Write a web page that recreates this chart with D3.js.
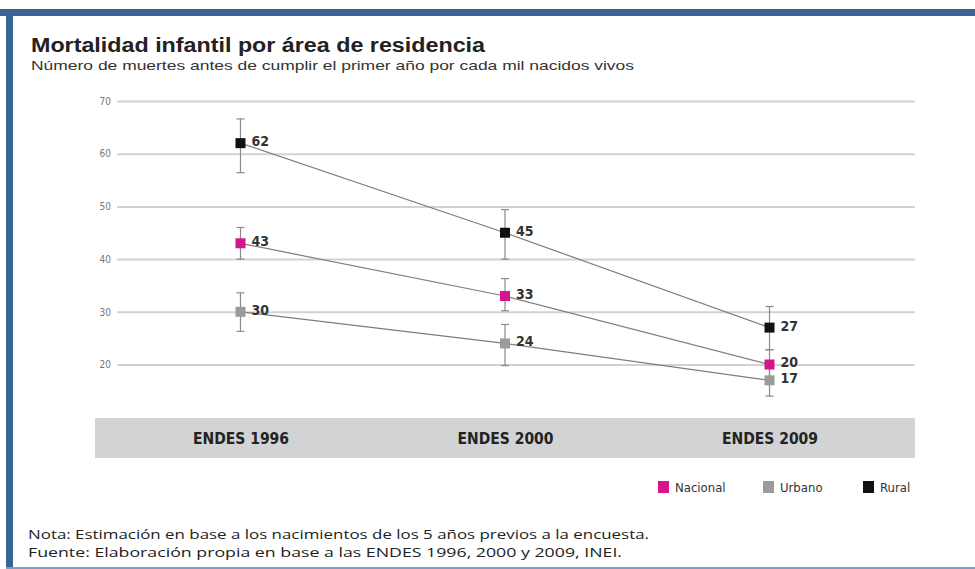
<!DOCTYPE html>
<html>
<head>
  <meta charset="utf-8">
  <script src="https://d3js.org/d3.v7.min.js"></script>
  <style>
    body { margin: 0; background: #fff; }
    svg { display: block; }
    .cond { font-family: "DejaVu Sans Condensed", "DejaVu Sans", sans-serif; font-stretch: condensed; }
  </style>
</head>
<body>
<script>
  // chart data
  var categories = ["ENDES 1996", "ENDES 2000", "ENDES 2009"];
  var seriesNames = ["Nacional", "Urbano", "Rural"];
  var nacional = [43, 33, 20];
  var urbano = [30, 24, 17];
  var rural = [62, 45, 27];
  // confidence intervals
  var nacionalLow = [40, 30.2, 17.5], nacionalHigh = [46, 36.3, 22.8];
  var urbanoLow = [26.3, 19.8, 14], urbanoHigh = [33.6, 27.6, 19.5];
  var ruralLow = [56.4, 40, 22.8], ruralHigh = [66.6, 49.4, 31];
  var yTicks = [20, 30, 40, 50, 60, 70];

  var colors = { "Nacional": "#d4168a", "Urbano": "#9b9b9b", "Rural": "#111111" };

  var series = [
    { name: "Rural", values: rural, low: ruralLow, high: ruralHigh },
    { name: "Nacional", values: nacional, low: nacionalLow, high: nacionalHigh },
    { name: "Urbano", values: urbano, low: urbanoLow, high: urbanoHigh }
  ];

  var width = 975, height = 569;

  var svg = d3.select("body").append("svg")
      .attr("width", width)
      .attr("height", height);

  // blue frame
  svg.append("rect").attr("x", 0).attr("y", 9).attr("width", width).attr("height", 7).attr("fill", "#3a6396");
  svg.append("rect").attr("x", 6).attr("y", 9).attr("width", 7).attr("height", height - 9).attr("fill", "#3a6396");
  svg.append("rect").attr("x", 6).attr("y", 567).attr("width", width).attr("height", 2).attr("fill", "#7f9cc6");

  // titles
  svg.append("text")
      .attr("x", 31).attr("y", 52)
      .style("font-family", "Liberation Sans, Arial, sans-serif")
      .style("font-size", "20px")
      .style("font-weight", "bold")
      .attr("fill", "#222")
      .attr("textLength", 454)
      .attr("lengthAdjust", "spacingAndGlyphs")
      .text("Mortalidad infantil por área de residencia");

  svg.append("text")
      .attr("x", 31).attr("y", 70)
      .style("font-family", "Liberation Sans, Arial, sans-serif")
      .style("font-size", "13px")
      .attr("fill", "#333")
      .attr("textLength", 603)
      .attr("lengthAdjust", "spacingAndGlyphs")
      .text("Número de muertes antes de cumplir el primer año por cada mil nacidos vivos");

  var x = d3.scalePoint()
      .domain(categories)
      .range([95, 915])
      .padding(0.55);

  var y = d3.scaleLinear()
      .domain([20, 70])
      .range([364.5, 101]);

  // grid lines
  var yAxis = d3.axisLeft(y)
      .tickValues(yTicks)
      .tickSize(-(915 - 117))
      .tickPadding(6);

  var gy = svg.append("g")
      .attr("transform", "translate(117,0)")
      .call(yAxis);
  gy.select(".domain").remove();
  gy.selectAll(".tick line")
      .attr("stroke", "#d2d2d2")
      .attr("stroke-width", 2);
  gy.selectAll(".tick text")
      .attr("class", "cond")
      .attr("fill", "#777")
      .style("font-size", "10px");

  // category band
  svg.append("rect")
      .attr("x", 95).attr("y", 418)
      .attr("width", 820).attr("height", 40)
      .attr("fill", "#d1d3d4");

  var gx = svg.append("g")
      .attr("transform", "translate(0,438)")
      .call(d3.axisBottom(x).tickSize(0).tickPadding(0));
  gx.select(".domain").remove();
  gx.selectAll(".tick text")
      .attr("class", "cond")
      .attr("dy", "0.35em")
      .attr("fill", "#222")
      .style("font-size", "16px")
      .style("font-weight", "bold")
      .attr("textLength", 96)
      .attr("lengthAdjust", "spacingAndGlyphs");

  // lines
  var line = d3.line()
      .x(function (d, i) { return x(categories[i]); })
      .y(function (d) { return y(d); });

  svg.selectAll(".series-line")
      .data(series)
      .enter().append("path")
      .attr("class", "series-line")
      .attr("d", function (s) { return line(s.values); })
      .attr("fill", "none")
      .attr("stroke", "#7d7d7d")
      .attr("stroke-width", 1.2);

  // error bars
  series.forEach(function (s) {
    var g = svg.append("g");
    categories.forEach(function (c, i) {
      var cx = x(c);
      g.append("line")
          .attr("x1", cx).attr("x2", cx)
          .attr("y1", y(s.low[i])).attr("y2", y(s.high[i]))
          .attr("stroke", "#8a8a8a").attr("stroke-width", 1.2);
      [s.low[i], s.high[i]].forEach(function (v) {
        g.append("line")
            .attr("x1", cx - 4).attr("x2", cx + 4)
            .attr("y1", y(v)).attr("y2", y(v))
            .attr("stroke", "#8a8a8a").attr("stroke-width", 1.2);
      });
    });
  });

  // markers and value labels
  series.forEach(function (s) {
    var g = svg.append("g");
    g.selectAll("rect")
        .data(s.values)
        .enter().append("rect")
        .attr("x", function (d, i) { return x(categories[i]) - 5; })
        .attr("y", function (d) { return y(d) - 5; })
        .attr("width", 10).attr("height", 10)
        .attr("fill", colors[s.name]);
    g.selectAll("text")
        .data(s.values)
        .enter().append("text")
        .attr("class", "cond")
        .attr("x", function (d, i) { return x(categories[i]) + 11; })
        .attr("y", function (d) { return y(d) - 2; })
        .attr("dy", "0.35em")
        .attr("fill", "#333")
        .style("font-size", "14px")
        .style("font-weight", "bold")
        .text(function (d) { return d; });
  });

  // legend
  var legendX = [658, 763, 863];
  var legend = svg.selectAll(".legend")
      .data(seriesNames)
      .enter().append("g")
      .attr("class", "legend")
      .attr("transform", function (d, i) { return "translate(" + legendX[i] + ",481)"; });
  legend.append("rect")
      .attr("width", 11).attr("height", 12)
      .attr("fill", function (d) { return colors[d]; });
  legend.append("text")
      .attr("class", "cond")
      .attr("x", 17).attr("y", 11)
      .attr("fill", "#333")
      .style("font-size", "13px")
      .text(function (d) { return d; });

  // notes
  svg.append("text")
      .attr("x", 28).attr("y", 539)
      .style("font-family", "Open Sans, Liberation Sans, sans-serif")
      .style("font-size", "13px")
      .attr("fill", "#222")
      .attr("textLength", 621)
      .attr("lengthAdjust", "spacingAndGlyphs")
      .text("Nota: Estimación en base a los nacimientos de los 5 años previos a la encuesta.");
  svg.append("text")
      .attr("x", 28).attr("y", 557)
      .style("font-family", "Open Sans, Liberation Sans, sans-serif")
      .style("font-size", "13px")
      .attr("fill", "#222")
      .attr("textLength", 594)
      .attr("lengthAdjust", "spacingAndGlyphs")
      .text("Fuente: Elaboración propia en base a las ENDES 1996, 2000 y 2009, INEI.");
</script>
</body>
</html>
